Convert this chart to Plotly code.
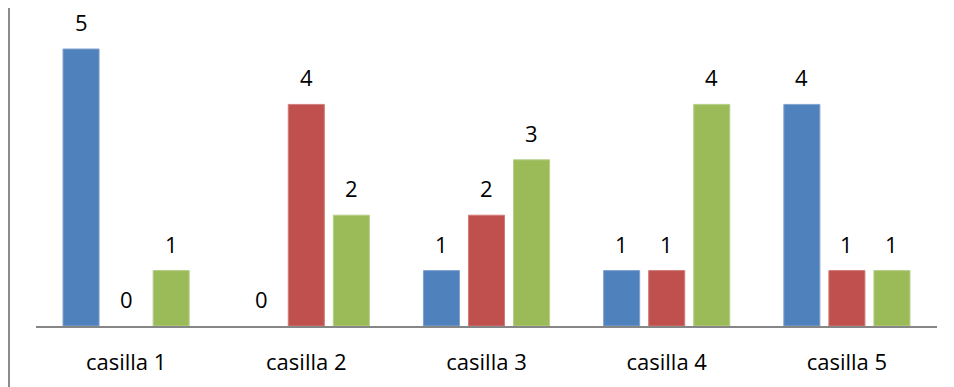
import plotly.graph_objects as go

categories = ["casilla 1", "casilla 2", "casilla 3", "casilla 4", "casilla 5"]
serie1 = [5, 0, 1, 1, 4]
serie2 = [0, 4, 2, 1, 1]
serie3 = [1, 2, 3, 4, 1]
series_names = ["Serie 1", "Serie 2", "Serie 3"]
colors = ["#4F81BD", "#C0504D", "#9BBB59"]
edge_colors = ["#7FA2CF", "#D07B79", "#B6CE87"]

FONT = "Open Sans"
FS = 22
fig = go.Figure()
all_series = [serie1, serie2, serie3]
for name, vals, c, ec in zip(series_names, all_series, colors, edge_colors):
    fig.add_trace(go.Bar(x=categories, y=vals, name=name,
                         marker=dict(color=c,
                                     line=dict(color=ec,
                                               width=[1 if v else 0 for v in vals]))))

# value labels above each bar
offsets = [-45, 0, 45]
for vals, off in zip(all_series, offsets):
    for cat, v in zip(categories, vals):
        fig.add_annotation(x=cat, y=v, text=str(v), showarrow=False,
                           xshift=off, yshift=27, yanchor="middle",
                           font=dict(family=FONT, size=FS, color="black"))

fig.update_layout(
    width=954, height=387,
    margin=dict(l=28, r=25, t=0, b=69),
    barmode="group", bargap=0.25, bargroupgap=0.2,
    showlegend=False,
    plot_bgcolor="white", paper_bgcolor="white",
    font=dict(family=FONT, size=FS, color="black"),
    xaxis=dict(showline=True, linecolor="#868686", linewidth=2,
               ticks="", showgrid=False, zeroline=False,
               ticklabelstandoff=16,
               tickfont=dict(family=FONT, size=FS, color="black")),
    yaxis=dict(range=[0, 5.74], visible=False, showgrid=False, zeroline=False),
    shapes=[dict(type="line", xref="paper", yref="paper",
                 x0=-27/901, x1=-27/901, y0=-0.3, y1=1.1,
                 line=dict(color="#8C8C8C", width=2))],
)

fig.write_html("out.html")
